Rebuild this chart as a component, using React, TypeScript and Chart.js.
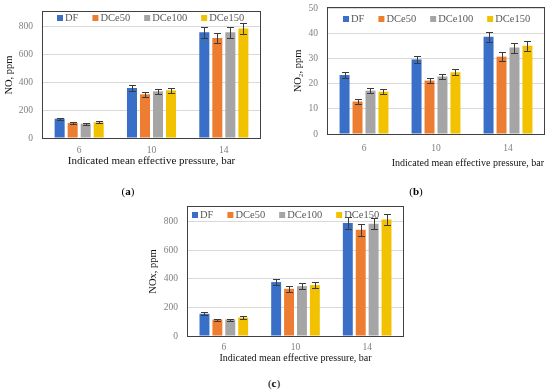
import React, { useEffect, useRef } from 'react';
import { Chart, registerables } from 'chart.js';

Chart.register(...registerables);

// ---------- data ----------
const categories = ['6', '10', '14'];
const seriesNames = ['DF', 'DCe50', 'DCe100', 'DCe150'];

// (a) NO, ppm
const noDF = [138, 357, 755];
const noDCe50 = [107, 312, 714];
const noDCe100 = [102, 333, 755];
const noDCe150 = [112, 340, 783];
const noErrDF = [8, 18, 38];
const noErrDCe50 = [7, 18, 36];
const noErrDCe100 = [7, 18, 38];
const noErrDCe150 = [7, 18, 38];

// (b) NO2, ppm
const no2DF = [23.4, 29.6, 38.6];
const no2DCe50 = [12.9, 21.2, 30.7];
const no2DCe100 = [17.2, 22.8, 34.3];
const no2DCe150 = [16.8, 24.5, 35.0];
const no2ErrDF = [1.3, 1.5, 2.0];
const no2ErrDCe50 = [0.9, 1.0, 1.7];
const no2ErrDCe100 = [0.9, 1.1, 2.0];
const no2ErrDCe150 = [0.9, 1.2, 2.0];

// (c) NOx, ppm
const noxDF = [155, 376, 788];
const noxDCe50 = [115, 329, 741];
const noxDCe100 = [115, 348, 784];
const noxDCe150 = [129, 355, 812];
const noxErrDF = [9, 22, 40];
const noxErrDCe50 = [7, 20, 40];
const noxErrDCe100 = [7, 20, 40];
const noxErrDCe150 = [8, 20, 41];

const xTitle = 'Indicated mean effective pressure, bar';

// ---------- styles ----------
const COLORS = ['#3A6FC8', '#ED7D31', '#A5A5A5', '#F2C200'];
const FONT = '"Liberation Serif", "Times New Roman", serif';

type Panel = {
  left: number; top: number; width: number; height: number;
  padTop: number; padRight: number;
  yWidth: number; xHeight: number;
  yMax: number; yStep: number; yTitle: string;
  xAlign: 'center' | 'end'; xTitleSize: number;
  legendDx: number; legendDy: number;
  yTitlePad: number; xTitlePad: number; xTickPad: number;
  series: number[][]; errors: number[][];
  caption: string; capX: number; capY: number;
};

const PANELS: Panel[] = [
  {
    left: 0, top: 0, width: 275, height: 175, padTop: 12, padRight: 15,
    yWidth: 43, xHeight: 37, yMax: 900, yStep: 200, yTitle: 'NO, ppm',
    xAlign: 'center', xTitleSize: 11, legendDx: 14, legendDy: 6,
    yTitlePad: 3, xTitlePad: 7, xTickPad: 7,
    series: [noDF, noDCe50, noDCe100, noDCe150],
    errors: [noErrDF, noErrDCe50, noErrDCe100, noErrDCe150],
    caption: 'a', capX: 128, capY: 191,
  },
  {
    left: 288, top: 0, width: 262, height: 175, padTop: 8, padRight: 6,
    yWidth: 40, xHeight: 41, yMax: 50, yStep: 10, yTitle: 'NO\u2082, ppm',
    xAlign: 'end', xTitleSize: 10, legendDx: 15, legendDy: 11,
    yTitlePad: 4, xTitlePad: 6, xTickPad: 9,
    series: [no2DF, no2DCe50, no2DCe100, no2DCe150],
    errors: [no2ErrDF, no2ErrDCe50, no2ErrDCe100, no2ErrDCe150],
    caption: 'b', capX: 416, capY: 191,
  },
  {
    left: 143, top: 195, width: 275, height: 175, padTop: 12, padRight: 15,
    yWidth: 45, xHeight: 34, yMax: 900, yStep: 200, yTitle: 'NOx, ppm',
    xAlign: 'center', xTitleSize: 10, legendDx: 4, legendDy: 8,
    yTitlePad: 4, xTitlePad: 6, xTickPad: 6,
    series: [noxDF, noxDCe50, noxDCe100, noxDCe150],
    errors: [noxErrDF, noxErrDCe50, noxErrDCe100, noxErrDCe150],
    caption: 'c', capX: 274, capY: 383,
  },
];

function makeChart(canvas: HTMLCanvasElement, p: Panel) {
  const datasets = seriesNames.map((name, i) => ({
    label: name,
    data: p.series[i],
    errors: p.errors[i],
    backgroundColor: COLORS[i],
    borderWidth: 0,
    barPercentage: 0.77,
    categoryPercentage: 0.72,
  }));

  const errorBars = {
    id: 'errorBars',
    afterDatasetsDraw(chart: any) {
      const ctx = chart.ctx;
      const ys = chart.scales.y;
      ctx.save();
      ctx.strokeStyle = '#3b3b3b';
      ctx.lineWidth = 1;
      chart.data.datasets.forEach((ds: any, di: number) => {
        const meta = chart.getDatasetMeta(di);
        meta.data.forEach((bar: any, j: number) => {
          const v = ds.data[j];
          const e = ds.errors[j];
          const x = Math.round(bar.x) + 0.5;
          const yT = Math.round(ys.getPixelForValue(v + e)) + 0.5;
          const yB = Math.round(ys.getPixelForValue(v - e)) + 0.5;
          ctx.beginPath();
          ctx.moveTo(x, yT); ctx.lineTo(x, yB);
          ctx.moveTo(x - 3.5, yT); ctx.lineTo(x + 3.5, yT);
          ctx.moveTo(x - 3.5, yB); ctx.lineTo(x + 3.5, yB);
          ctx.stroke();
        });
      });
      ctx.restore();
    },
  };

  const boxAndLegend = {
    id: 'boxAndLegend',
    afterDraw(chart: any) {
      const ctx = chart.ctx;
      const { left, top, right, bottom } = chart.chartArea;
      ctx.save();
      ctx.strokeStyle = '#404040';
      ctx.lineWidth = 1;
      const l = Math.round(left), t = Math.round(top), r = Math.round(right), b = Math.round(bottom);
      ctx.strokeRect(l - 0.5, t - 0.5, r - l + 1, b - t + 1);
      // legend
      ctx.font = `10.5px ${FONT}`;
      ctx.textBaseline = 'middle';
      let x = l + p.legendDx;
      const y = t + p.legendDy;
      chart.data.datasets.forEach((ds: any) => {
        ctx.fillStyle = ds.backgroundColor;
        ctx.fillRect(x, y - 3, 6, 6);
        x += 8;
        ctx.fillStyle = '#595959';
        ctx.fillText(ds.label, x, y);
        x += ctx.measureText(ds.label).width + 14;
      });
      ctx.restore();
    },
  };

  return new Chart(canvas, {
    type: 'bar',
    data: { labels: categories, datasets: datasets as any },
    options: {
      animation: false,
      responsive: true,
      maintainAspectRatio: false,
      layout: { padding: { left: 0, top: p.padTop, right: p.padRight, bottom: 0 } },
      plugins: { legend: { display: false }, tooltip: { enabled: false } },
      scales: {
        x: {
          grid: { display: false, drawTicks: false },
          border: { display: false },
          ticks: { color: '#808080', font: { family: FONT, size: 9.5 }, padding: p.xTickPad },
          title: {
            display: true, text: xTitle, align: p.xAlign, color: '#111',
            font: { family: FONT, size: p.xTitleSize }, padding: { top: 0, bottom: p.xTitlePad },
          },
          afterFit(scale: any) {
            scale.height = p.xHeight;
            scale.paddingLeft = 0;
            scale.paddingRight = 0;
          },
        },
        y: {
          min: 0, max: p.yMax,
          grid: { color: '#d9d9d9', drawTicks: false },
          border: { display: false },
          ticks: {
            stepSize: p.yStep, includeBounds: false, color: '#808080',
            font: { family: FONT, size: 9.5 }, padding: 10,
          },
          title: {
            display: true, text: p.yTitle, color: '#111',
            font: { family: FONT, size: 10.5 }, padding: { top: p.yTitlePad, bottom: 0 },
          },
          afterFit(scale: any) {
            scale.width = p.yWidth;
            scale.paddingTop = 0;
            scale.paddingBottom = 0;
          },
        },
      },
    } as any,
    plugins: [errorBars, boxAndLegend],
  });
}

export default function App() {
  const r0 = useRef<HTMLCanvasElement>(null);
  const r1 = useRef<HTMLCanvasElement>(null);
  const r2 = useRef<HTMLCanvasElement>(null);
  const refs = [r0, r1, r2];

  useEffect(() => {
    document.body.style.margin = '0';
    const charts = PANELS.map((p, i) => makeChart(refs[i].current as HTMLCanvasElement, p));
    return () => charts.forEach((c) => c.destroy());
  }, []);

  return (
    <div style={{ position: 'relative', width: 550, height: 392, background: '#fff', overflow: 'hidden' }}>
      {PANELS.map((p, i) => (
        <div key={i} style={{ position: 'absolute', left: p.left, top: p.top, width: p.width, height: p.height }}>
          <canvas ref={refs[i]} />
        </div>
      ))}
      {PANELS.map((p, i) => (
        <div
          key={'c' + i}
          style={{
            position: 'absolute', left: p.capX - 20, top: p.capY - 7, width: 40, height: 14,
            textAlign: 'center', font: `11px ${FONT}`, lineHeight: '14px', color: '#000',
          }}
        >
          (<b>{p.caption}</b>)
        </div>
      ))}
    </div>
  );
}
